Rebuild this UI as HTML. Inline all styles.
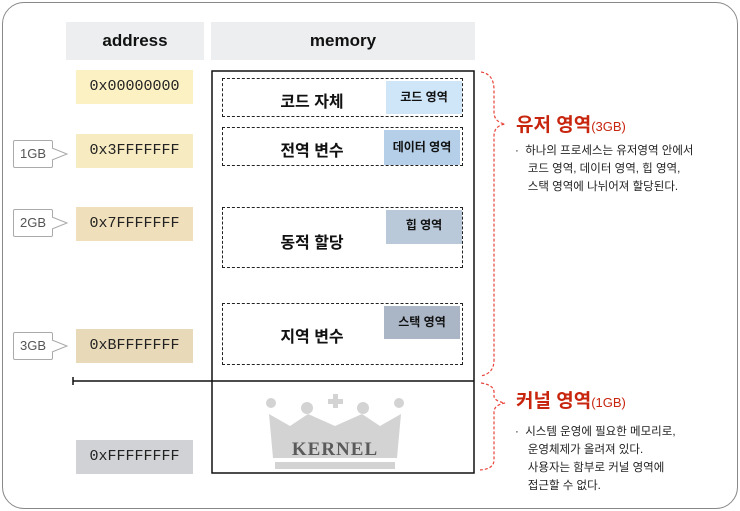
<!DOCTYPE html>
<html><head><meta charset="utf-8"><style>
body{margin:0;width:740px;height:511px;background:#fff;position:relative;overflow:hidden;font-family:"Liberation Sans","Noto Sans CJK KR",sans-serif}
div{position:absolute;box-sizing:border-box}
.hd{background:#eceef0;font-weight:bold;font-size:17px;color:#111;text-align:center;line-height:38px;top:22px;height:38px}
.ad{left:76px;width:117px;height:34px;font-family:"Liberation Mono","DejaVu Sans Mono",monospace;font-size:15px;text-align:center;line-height:34px;color:#222}
.gb{left:13px;width:40px;height:28px;border:1px solid #aaa;border-radius:2px;font-size:13px;color:#555;text-align:center;line-height:26px;background:#fff}
.ds{left:222px;width:241px;border:1.5px dashed #222}
.mt{font-weight:bold;font-size:16px;color:#111;width:180px;text-align:center;left:222px}
.lb{font-size:12px;font-weight:bold;color:#111;text-align:center}
.tt{color:#c8250e;font-weight:bold;font-size:19px;left:516px}
.tt span{font-size:13px;font-weight:normal}
.tx{font-size:11.5px;color:#222;left:515px;line-height:18px}
</style></head><body>
<div style="left:2px;top:2px;width:736px;height:507px;border:1.5px solid #888;border-radius:22px"></div>
<div class="hd" style="left:66px;width:138px">address</div>
<div class="hd" style="left:211px;width:264px">memory</div>
<div class="ad" style="top:70px;background:#fcf1c3">0x00000000</div>
<div class="ad" style="top:134px;background:#f7ebc1">0x3FFFFFFF</div>
<div class="ad" style="top:207px;background:#efdfba">0x7FFFFFFF</div>
<div class="ad" style="top:329px;background:#e8d9b9">0xBFFFFFFF</div>
<div class="ad" style="top:440px;background:#d1d2d5">0xFFFFFFFF</div>
<div class="gb" style="top:140px">1GB</div>
<div class="gb" style="top:209px">2GB</div>
<div class="gb" style="top:332px">3GB</div>
<svg style="position:absolute;left:0;top:0" width="740" height="511">
<g fill="#fff" stroke="#aaa"><path d="M52 148 L67 154 L52 160"/><path d="M52 217 L67 223 L52 229"/><path d="M52 340 L67 346 L52 352"/></g>
<rect x="212" y="71" width="262" height="402" fill="none" stroke="#111" stroke-width="1.5"/>
<line x1="73" y1="381" x2="474" y2="381" stroke="#111" stroke-width="1.5"/>
<line x1="73" y1="377" x2="73" y2="385" stroke="#111" stroke-width="1.5"/>
<g fill="none" stroke="#e8433a" stroke-width="1.2" stroke-dasharray="3,2">
<path d="M481 72 Q494 74 494 90 L494 112 Q494 122 505 124 Q494 126 494 136 L494 360 Q494 374 480 376"/>
<path d="M481 383 Q494 385 494 392 L494 396 Q494 401 505 403 Q494 405 494 412 L494 460 Q494 469 480 470"/>
</g>
<g fill="#d3d3d3">
<circle cx="271" cy="403" r="5"/><circle cx="307" cy="408" r="6"/><circle cx="363" cy="408" r="6"/><circle cx="399" cy="403" r="5"/>
<rect x="333" y="394" width="5" height="14"/><rect x="328" y="399" width="15" height="5"/>
<path d="M269 414 L290 426 L308 414 L335 426 L362 414 L380 426 L401 414 L397 458 L273 458 Z"/>
<rect x="275" y="462" width="120" height="7"/>
</g>
<text x="335" y="455" text-anchor="middle" font-family="Liberation Serif,serif" font-weight="bold" font-size="19" fill="#5a5a5a" letter-spacing="1">KERNEL</text>
</svg>
<div class="ds" style="top:78px;height:39px"></div>
<div class="ds" style="top:127px;height:39px"></div>
<div class="ds" style="top:207px;height:61px"></div>
<div class="ds" style="top:303px;height:62px"></div>
<div class="mt" style="top:88px">코드 자체</div>
<div class="mt" style="top:137px">전역 변수</div>
<div class="mt" style="top:229px">동적 할당</div>
<div class="mt" style="top:323px">지역 변수</div>
<div class="lb" style="left:386px;top:81px;width:76px;height:33px;line-height:33px;background:#cfe5f8">코드 영역</div>
<div class="lb" style="left:384px;top:130px;width:76px;height:35px;line-height:35px;background:#b5cfe8">데이터 영역</div>
<div class="lb" style="left:386px;top:210px;width:76px;height:34px;line-height:30px;background:#b9c9d9">힙 영역</div>
<div class="lb" style="left:384px;top:306px;width:76px;height:33px;line-height:33px;background:#aab6c6">스택 영역</div>
<div class="tt" style="top:110px">유저 영역<span>(3GB)</span></div>
<div class="tx" style="top:142px">·&nbsp;&nbsp;하나의 프로세스는 유저영역 안에서<br>&nbsp;&nbsp;&nbsp;&nbsp;코드 영역, 데이터 영역, 힙 영역,<br>&nbsp;&nbsp;&nbsp;&nbsp;스택 영역에 나뉘어져 할당된다.</div>
<div class="tt" style="top:386px">커널 영역<span>(1GB)</span></div>
<div class="tx" style="top:423px">·&nbsp;&nbsp;시스템 운영에 필요한 메모리로,<br>&nbsp;&nbsp;&nbsp;&nbsp;운영체제가 올려져 있다.<br>&nbsp;&nbsp;&nbsp;&nbsp;사용자는 함부로 커널 영역에<br>&nbsp;&nbsp;&nbsp;&nbsp;접근할 수 없다.</div>
</body></html>
